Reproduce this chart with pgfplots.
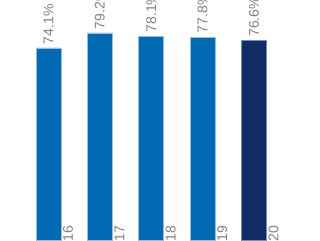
\documentclass[border=0pt]{standalone}
\usepackage{pgfplots}
\pgfplotsset{compat=1.18}
\usepackage{fontspec}
\setmainfont{Liberation Sans}
\definecolor{barblue}{RGB}{0,106,180}
\definecolor{barnavy}{RGB}{16,44,98}
\definecolor{edgeblue}{RGB}{150,190,225}
\definecolor{lblgray}{RGB}{130,130,130}
\begin{document}
\begin{tikzpicture}
\begin{axis}[
  width=8cm, height=6cm, scale only axis,
  axis lines=none,
  xmin=-0.944, xmax=5.284,
  ymin=8.8, ymax=90.4,
  ybar, bar width=0.625cm, bar shift=0pt,
  clip=false,
  /pgf/number format/assume math mode=true,
  nodes near coords={\pgfmathprintnumber[fixed,precision=1,fixed zerofill,assume math mode=true]{\pgfplotspointmeta}\%},
  every node near coord/.append style={rotate=90, anchor=west, inner sep=2.5pt, font=\fontsize{10}{12}\selectfont, text=lblgray},
]
\addplot[fill=barblue, draw=edgeblue, line width=0.4pt] coordinates {(0,74.1) (1,79.2) (2,78.1) (3,77.8)};
\addplot[fill=barnavy, draw=edgeblue!70!barnavy, line width=0.4pt] coordinates {(4,76.6)};
\node[rotate=90, anchor=east, font=\fontsize{10}{12}\selectfont, text=lblgray] at (axis cs:0.38,15.2) {2016};
\node[rotate=90, anchor=east, font=\fontsize{10}{12}\selectfont, text=lblgray] at (axis cs:1.38,15.2) {2017};
\node[rotate=90, anchor=east, font=\fontsize{10}{12}\selectfont, text=lblgray] at (axis cs:2.38,15.2) {2018};
\node[rotate=90, anchor=east, font=\fontsize{10}{12}\selectfont, text=lblgray] at (axis cs:3.38,15.2) {2019};
\node[rotate=90, anchor=east, font=\fontsize{10}{12}\selectfont, text=lblgray] at (axis cs:4.38,15.2) {2020};
\end{axis}
\pgfresetboundingbox
\path[use as bounding box] (current axis.south west) rectangle (current axis.north east);
\end{tikzpicture}
\end{document}
